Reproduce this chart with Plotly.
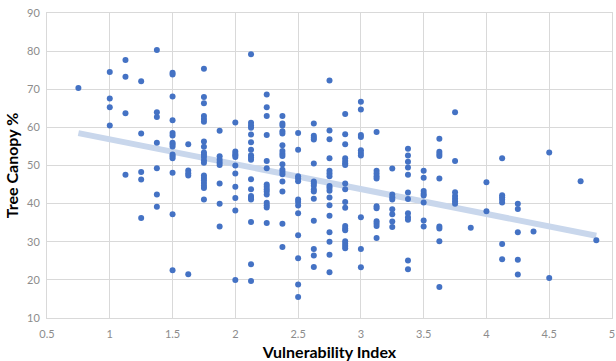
import numpy as np
import plotly.graph_objects as go

# vulnerability index (x) and tree canopy % (y), one line per x column
vulnerability = (
    [0.75] * 1 + [1.0] * 4 + [1.125] * 4 + [1.25] * 5 + [1.375] * 7
    + [1.5] * 15 + [1.625] * 5 + [1.75] * 20 + [1.875] * 8 + [2.0] * 11
    + [2.125] * 18 + [2.25] * 15 + [2.375] * 17 + [2.5] * 13 + [2.625] * 15
    + [2.75] * 17 + [2.875] * 18 + [3.0] * 10 + [3.125] * 11 + [3.25] * 8
    + [3.375] * 12 + [3.5] * 8 + [3.625] * 9 + [3.75] * 7 + [3.875] * 1
    + [4.0] * 2 + [4.125] * 7 + [4.25] * 5 + [4.375] * 1 + [4.5] * 2
    + [4.75] * 1 + [4.875] * 1
)
canopy = [
    70.3,
    74.5, 67.6, 65.3, 60.5,
    77.7, 73.3, 63.7, 47.6,
    72.1, 58.4, 48.3, 46.3, 36.2,
    80.3, 64.0, 62.7, 56.0, 49.3, 42.4, 39.2,
    74.3, 73.9, 68.1, 61.9, 58.5, 57.9, 56.0, 55.6, 55.0, 52.9, 52.4, 51.9, 48.1, 37.2, 22.5,
    55.6, 48.7, 48.0, 47.4, 21.5,
    75.4, 68.0, 66.3, 63.0, 62.2, 61.5, 56.3, 54.9, 53.4, 52.8, 52.2, 51.4, 50.7, 47.4, 46.7,
    46.1, 45.4, 44.7, 44.1, 41.1,
    59.1, 52.4, 51.5, 50.8, 50.1, 45.3, 40.0, 34.0,
    61.3, 53.7, 53.1, 52.7, 52.2, 50.0, 47.9, 44.4, 41.5, 38.2, 20.0,
    79.2, 61.2, 60.5, 59.9, 58.1, 56.1, 54.1, 52.7, 52.1, 51.5, 46.4, 43.8, 42.0, 41.5, 41.1,
    35.2, 24.1, 19.7,
    68.6, 65.3, 63.0, 58.0, 51.2, 49.3, 45.0, 44.4, 43.8, 43.2, 42.4, 40.2, 39.6, 39.0, 34.9,
    63.0, 61.0, 60.5, 59.0, 58.4, 55.3, 53.8, 53.1, 52.5, 50.3, 48.9, 48.3, 47.7, 45.8, 43.2,
    34.7, 28.6,
    58.5, 54.1, 47.2, 46.6, 45.9, 41.1, 40.4, 39.5, 37.5, 31.7, 25.7, 18.8, 15.5,
    61.0, 57.8, 57.3, 56.8, 50.5, 45.8, 45.3, 44.7, 43.7, 43.2, 41.3, 35.5, 28.1, 26.4, 23.4,
    72.3, 59.2, 56.9, 51.9, 48.6, 47.9, 47.2, 44.6, 44.1, 43.4, 41.6, 39.6, 36.8, 32.5, 30.0,
    26.6, 22.0,
    63.5, 58.2, 55.6, 51.9, 51.2, 50.6, 50.1, 45.3, 43.8, 40.4, 38.9, 34.1, 33.5, 33.0, 30.1,
    29.5, 28.9, 28.3,
    66.7, 64.7, 58.0, 57.5, 54.0, 53.3, 52.6, 36.4, 28.1, 23.3,
    58.8, 48.6, 47.9, 47.2, 46.6, 39.3, 38.8, 35.4, 34.8, 34.1, 31.0,
    49.2, 42.4, 41.7, 41.1, 38.5, 37.2, 35.3, 33.9,
    54.4, 52.6, 51.0, 49.5, 47.6, 42.9, 41.2, 37.5, 36.4, 35.8, 25.1, 22.8,
    48.6, 46.8, 43.3, 42.6, 42.1, 40.3, 35.6, 34.0,
    57.0, 53.6, 53.0, 52.5, 46.6, 34.0, 33.5, 30.1, 18.1,
    64.0, 51.2, 43.0, 42.0, 41.3, 40.6, 40.0,
    33.7,
    45.6, 38.0,
    51.9, 42.2, 41.7, 41.1, 40.3, 29.4, 25.4,
    40.0, 38.6, 32.5, 25.3, 21.4,
    32.7,
    53.4, 20.5,
    45.9,
    30.4,
]
x_ticks = [0.5, 1, 1.5, 2, 2.5, 3, 3.5, 4, 4.5, 5]
y_ticks = [10, 20, 30, 40, 50, 60, 70, 80, 90]

x = np.array(vulnerability)
y = np.array(canopy)
slope, intercept = np.polyfit(x, y, 1)
trend_x = np.array([x.min(), x.max()])
trend_y = slope * trend_x + intercept

fig = go.Figure()
fig.add_trace(go.Scatter(
    x=trend_x, y=trend_y, mode="lines",
    line=dict(color="#c9d7ec", width=6), hoverinfo="skip",
))
fig.add_trace(go.Scatter(
    x=x, y=y, mode="markers",
    marker=dict(color="#4472c4", size=6),
))

grid = "#d9d9d9"
tick_font = dict(family="Lato, 'Open Sans', sans-serif", size=11, color="#8c8c8c")
title_font = dict(family="Lato, 'Open Sans', sans-serif", size=16, color="#000000")
fig.update_xaxes(
    range=[0.5, 5], tickvals=x_ticks, ticktext=[str(v) for v in x_ticks],
    showgrid=True, gridcolor=grid, showline=True, linecolor=grid, mirror=True,
    zeroline=False, tickfont=tick_font, ticks="", ticklabelstandoff=6,
    title=dict(text="<b>Vulnerability Index</b>", font=title_font, standoff=10),
)
fig.update_yaxes(
    range=[10, 90], tickvals=y_ticks,
    showgrid=True, gridcolor=grid, showline=True, linecolor=grid, mirror=True,
    zeroline=False, tickfont=tick_font, ticks="", ticklabelstandoff=4,
    title=dict(text="<b>Tree Canopy %</b>", font=title_font, standoff=4),
)
fig.update_layout(
    width=616, height=361,
    margin=dict(l=47, r=4, t=13, b=43, autoexpand=False),
    plot_bgcolor="white", paper_bgcolor="white",
    showlegend=False,
)
# drop the default page margin so the figure sits at the window's corner
fig.write_html(
    "out.html",
    config={"displayModeBar": False},
    post_script="document.body.style.margin='0';",
)
